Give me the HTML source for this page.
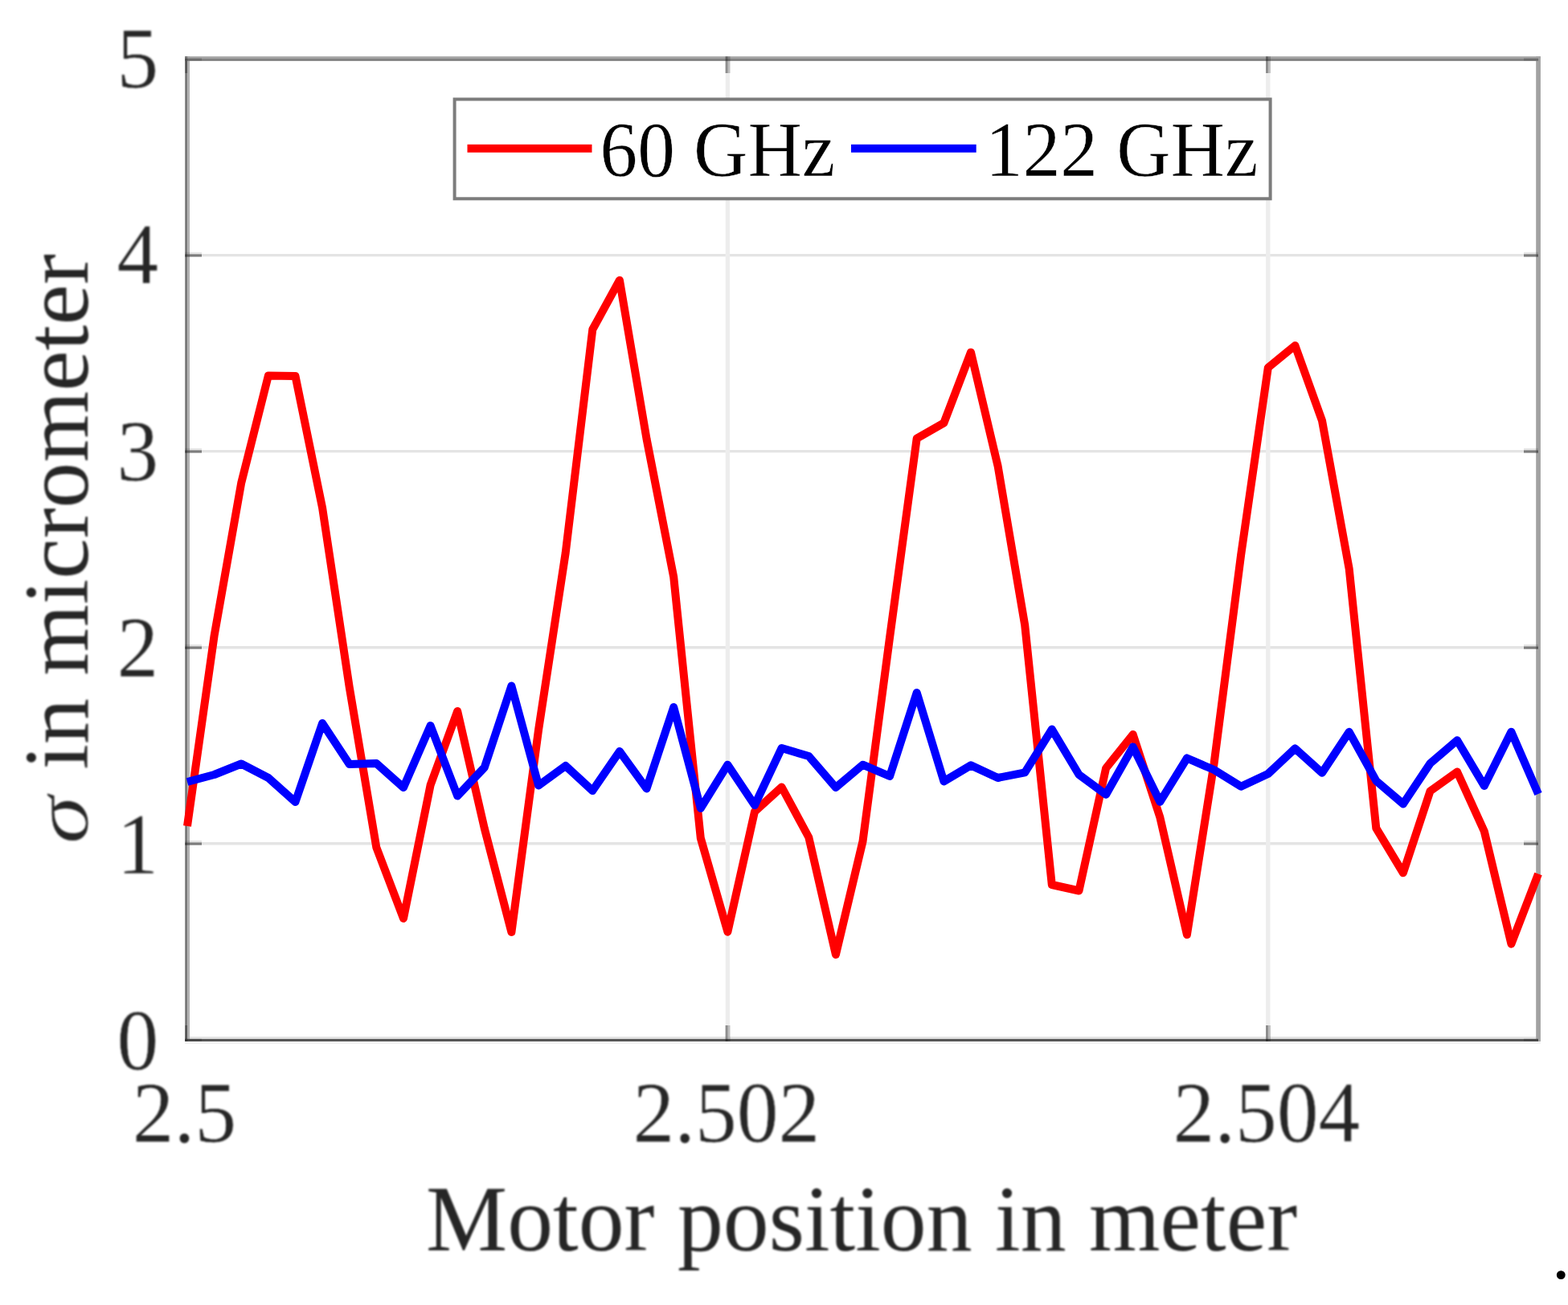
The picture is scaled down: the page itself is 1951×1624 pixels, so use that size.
<!DOCTYPE html>
<html lang="en">
<head>
<meta charset="utf-8">
<title>Sigma in micrometer vs motor position in meter</title>
<style>
html,body{margin:0;padding:0;background:#fff;}
body{width:1951px;height:1624px;overflow:hidden;}
svg{display:block;position:absolute;left:0;top:0;}
text{font-family:"Liberation Serif","DejaVu Serif",serif;fill:#262626;}
.tk{font-size:103.5px;stroke:#fff;stroke-width:0.5px;}
.lb{font-size:113.8px;}
.lg{font-size:93.3px;fill:#000;stroke:#fff;stroke-width:0.5px;}
.it{font-style:italic;}
</style>
</head>
<body>
<svg width="1951" height="1624" viewBox="0 0 1951 1624">
<rect x="0" y="0" width="1951" height="1624" fill="#fff"/>
<defs><filter id="soft" x="0" y="0" width="1951" height="1624" filterUnits="userSpaceOnUse" color-interpolation-filters="sRGB"><feGaussianBlur stdDeviation="0.8"/></filter></defs>
<g id="axes">
<g fill="none">
<line x1="233.0" y1="1049.7" x2="1914.0" y2="1049.7" stroke="#e4e4e4" stroke-width="3.4"/>
<line x1="233.0" y1="805.7" x2="1914.0" y2="805.7" stroke="#e4e4e4" stroke-width="3.4"/>
<line x1="233.0" y1="561.6" x2="1914.0" y2="561.6" stroke="#e4e4e4" stroke-width="3.4"/>
<line x1="233.0" y1="317.6" x2="1914.0" y2="317.6" stroke="#e4e4e4" stroke-width="3.4"/>
<line x1="905.4" y1="73.5" x2="905.4" y2="1293.8" stroke="#ededed" stroke-width="5.4"/>
<line x1="1577.8" y1="73.5" x2="1577.8" y2="1293.8" stroke="#ededed" stroke-width="5.4"/>
</g>
<g id="frame">
<rect x="230.2" y="1290" width="1681" height="3" fill="#e4e4e4"/>
<rect x="230.2" y="1296" width="1686.6" height="3" fill="#f1f1f1"/>
<rect x="230.2" y="70.2" width="3" height="1225.8" fill="#787878"/>
<rect x="233.2" y="70.2" width="2.8" height="1225.8" fill="#b0b0b0"/>
<rect x="1911.2" y="70.2" width="5.7" height="1225.8" fill="#a2a2a2"/>
<rect x="230.2" y="70.2" width="1686.6" height="2.8" fill="#a4a4a4"/>
<rect x="230.2" y="73" width="1684" height="2.9" fill="#828282"/>
<rect x="230.2" y="1292.9" width="1683.8" height="3.1" fill="#565656"/>
</g>
<g id="ticks">
<rect x="230.2" y="70.2" width="3" height="20.8" fill="#000" fill-opacity="0.28"/>
<rect x="230.2" y="1276.0" width="3" height="20.0" fill="#000" fill-opacity="0.28"/>
<rect x="902.6" y="70.2" width="3" height="20.8" fill="#000" fill-opacity="0.4"/>
<rect x="905.6" y="70.2" width="3" height="20.8" fill="#000" fill-opacity="0.2"/>
<rect x="902.6" y="1276.0" width="3" height="20.0" fill="#000" fill-opacity="0.4"/>
<rect x="905.6" y="1276.0" width="3" height="20.0" fill="#000" fill-opacity="0.2"/>
<rect x="1575.0" y="70.2" width="3" height="20.8" fill="#000" fill-opacity="0.4"/>
<rect x="1578.0" y="70.2" width="3" height="20.8" fill="#000" fill-opacity="0.2"/>
<rect x="1575.0" y="1276.0" width="3" height="20.0" fill="#000" fill-opacity="0.4"/>
<rect x="1578.0" y="1276.0" width="3" height="20.0" fill="#000" fill-opacity="0.2"/>
<rect x="230.2" y="1292.6" width="20.8" height="3.2" fill="#000" fill-opacity="0.16"/>
<rect x="1896.0" y="1292.6" width="18.0" height="3.2" fill="#000" fill-opacity="0.16"/>
<rect x="230.2" y="1048.5" width="20.8" height="3.2" fill="#000" fill-opacity="0.45"/>
<rect x="230.2" y="1045.9" width="20.8" height="2.6" fill="#000" fill-opacity="0.1"/>
<rect x="1896.0" y="1048.5" width="18.0" height="3.2" fill="#000" fill-opacity="0.45"/>
<rect x="1896.0" y="1045.9" width="18.0" height="2.6" fill="#000" fill-opacity="0.1"/>
<rect x="230.2" y="804.5" width="20.8" height="3.2" fill="#000" fill-opacity="0.45"/>
<rect x="230.2" y="801.9" width="20.8" height="2.6" fill="#000" fill-opacity="0.1"/>
<rect x="1896.0" y="804.5" width="18.0" height="3.2" fill="#000" fill-opacity="0.45"/>
<rect x="1896.0" y="801.9" width="18.0" height="2.6" fill="#000" fill-opacity="0.1"/>
<rect x="230.2" y="560.4" width="20.8" height="3.2" fill="#000" fill-opacity="0.45"/>
<rect x="230.2" y="557.8" width="20.8" height="2.6" fill="#000" fill-opacity="0.1"/>
<rect x="1896.0" y="560.4" width="18.0" height="3.2" fill="#000" fill-opacity="0.45"/>
<rect x="1896.0" y="557.8" width="18.0" height="2.6" fill="#000" fill-opacity="0.1"/>
<rect x="230.2" y="316.4" width="20.8" height="3.2" fill="#000" fill-opacity="0.45"/>
<rect x="230.2" y="313.8" width="20.8" height="2.6" fill="#000" fill-opacity="0.1"/>
<rect x="1896.0" y="316.4" width="18.0" height="3.2" fill="#000" fill-opacity="0.45"/>
<rect x="1896.0" y="313.8" width="18.0" height="2.6" fill="#000" fill-opacity="0.1"/>
<rect x="230.2" y="72.3" width="20.8" height="3.2" fill="#000" fill-opacity="0.16"/>
<rect x="1896.0" y="72.3" width="18.0" height="3.2" fill="#000" fill-opacity="0.16"/>
</g>
<rect x="565.6" y="123.5" width="1015" height="123.8" fill="#fff" stroke="#7c7c7c" stroke-width="4"/>
<g id="labels" filter="url(#soft)">
<text class="tk" transform="translate(197.2 1331.3) scale(1 1.035)" text-anchor="end">0</text>
<text class="tk" transform="translate(197.2 1087.2) scale(1 1.035)" text-anchor="end">1</text>
<text class="tk" transform="translate(197.2 842.2) scale(1 1.035)" text-anchor="end">2</text>
<text class="tk" transform="translate(197.2 598.4) scale(1 1.035)" text-anchor="end">3</text>
<text class="tk" transform="translate(197.2 353.1) scale(1 1.035)" text-anchor="end">4</text>
<text class="tk" transform="translate(197.2 109.0) scale(1 1.035)" text-anchor="end">5</text>
<text class="tk" transform="translate(229.5 1421.5) scale(1 1.035)" text-anchor="middle">2.5</text>
<text class="tk" transform="translate(903.9 1421.5) scale(1 1.035)" text-anchor="middle">2.502</text>
<text class="tk" transform="translate(1575.8 1421.5) scale(1 1.035)" text-anchor="middle">2.504</text>
<text class="lb" transform="translate(1072.0 1556.3) scale(1 1.020)" text-anchor="middle">Motor position in meter</text>
<text class="lb it" transform="translate(108.6 1050.2) rotate(-90) scale(1.065 0.85)" style="stroke:#fff;stroke-width:1px">σ</text>
<text class="lb" transform="translate(108.6 316.2) rotate(-90)" text-anchor="end">in micrometer</text>
</g>
</g>
<g id="series">
<polyline fill="none" stroke="#ff0000" stroke-width="10" stroke-linecap="butt" stroke-linejoin="round" points="233.0,1028.0 266.6,791.0 300.2,601.0 333.9,467.4 367.5,468.0 401.1,632.0 434.7,855.0 468.3,1054.5 502.0,1143.0 535.6,977.0 569.2,885.0 602.8,1031.0 636.4,1160.0 670.1,908.0 703.7,688.0 737.3,410.0 770.9,348.7 804.5,546.0 838.2,718.0 871.8,1043.0 905.4,1159.7 939.0,1010.0 972.6,979.5 1006.3,1042.0 1039.9,1188.0 1073.5,1047.0 1107.1,793.0 1140.7,545.6 1174.4,526.4 1208.0,438.4 1241.6,580.0 1275.2,778.0 1308.8,1101.0 1342.5,1108.5 1376.1,956.0 1409.7,914.0 1443.3,1017.0 1476.9,1163.2 1510.6,950.0 1544.2,690.0 1577.8,457.5 1611.4,430.0 1645.0,523.5 1678.7,708.0 1712.3,1030.7 1745.9,1086.3 1779.5,984.5 1813.1,960.5 1846.8,1034.5 1880.4,1174.7 1914.0,1087.5"/>
<polyline fill="none" stroke="#0000ff" stroke-width="10" stroke-linecap="butt" stroke-linejoin="round" points="233.0,973.0 266.6,964.0 300.2,950.5 333.9,968.0 367.5,998.0 401.1,900.0 434.7,951.0 468.3,950.0 502.0,980.0 535.6,903.0 569.2,990.5 602.8,955.0 636.4,853.5 670.1,977.5 703.7,953.0 737.3,984.0 770.9,935.0 804.5,981.4 838.2,880.0 871.8,1005.8 905.4,951.7 939.0,1002.0 972.6,931.0 1006.3,941.0 1039.9,980.0 1073.5,951.7 1107.1,966.0 1140.7,862.0 1174.4,972.4 1208.0,952.4 1241.6,968.0 1275.2,961.4 1308.8,907.6 1342.5,964.0 1376.1,988.8 1409.7,929.4 1443.3,997.8 1476.9,943.5 1510.6,958.0 1544.2,978.7 1577.8,963.0 1611.4,931.5 1645.0,961.7 1678.7,910.8 1712.3,971.7 1745.9,1000.4 1779.5,950.0 1813.1,921.3 1846.8,977.9 1880.4,910.8 1914.0,988.0"/>
</g>
<line x1="581.5" y1="184.7" x2="736.5" y2="184.7" stroke="#ff0000" stroke-width="10"/>
<line x1="1059" y1="184.7" x2="1214.7" y2="184.7" stroke="#0000ff" stroke-width="10"/>
<text class="lg" transform="translate(746.5 218.7) scale(1 1.045)">60 GHz</text>
<text class="lg" transform="translate(1226 218.7) scale(1 1.045)">122 GHz</text>
<text x="1930.8" y="1591.2" style="font-size:92px;fill:#000">.</text>
</svg>
</body>
</html>
